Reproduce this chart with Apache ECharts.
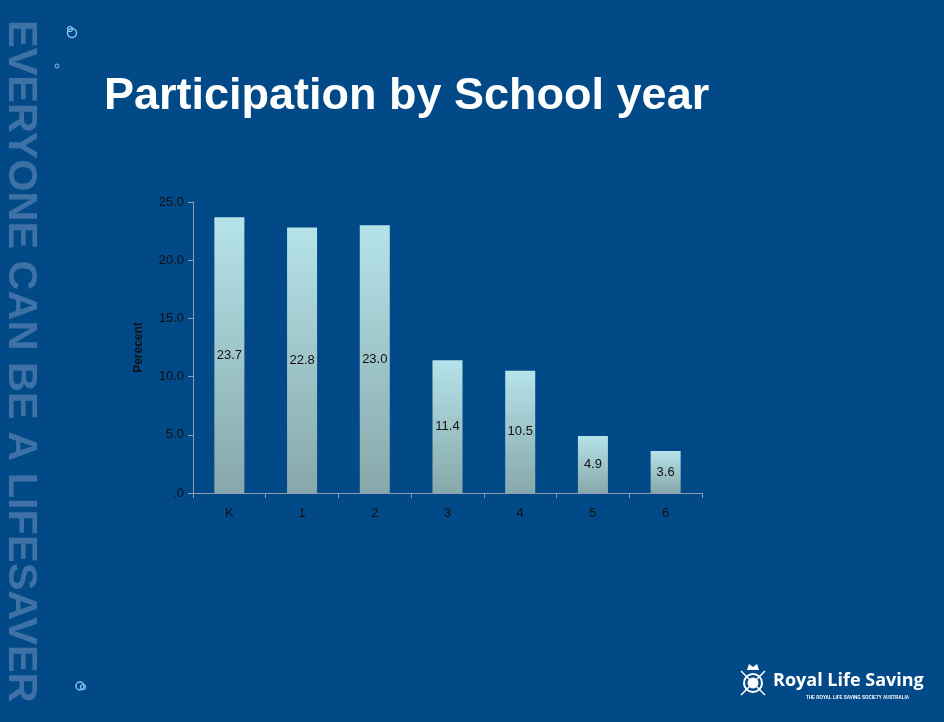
<!DOCTYPE html>
<html>
<head>
<meta charset="utf-8">
<script src="https://cdn.jsdelivr.net/npm/echarts@6/dist/echarts.min.js"></script>
<style>
  html, body { margin: 0; padding: 0; background: #024a87; }
  #chart { width: 944px; height: 722px; }
</style>
</head>
<body>
<div id="chart"></div>
<script>
// School years and share of participants (%)
const schoolYears = ['K', '1', '2', '3', '4', '5', '6'];
const participation = [23.7, 22.8, 23.0, 11.4, 10.5, 4.9, 3.6];
const yTicks = { min: 0, max: 25, interval: 5 };

const chart = echarts.init(document.getElementById('chart'));

const barGradient = new echarts.graphic.LinearGradient(0, 0, 0, 1, [
  { offset: 0, color: '#b5e3e9' },
  { offset: 1, color: '#87a8aa' }
]);

chart.setOption({
  backgroundColor: '#024a87',
  animation: false,
  grid: { left: 193, right: 242, top: 202, bottom: 229 },
  xAxis: {
    type: 'category',
    data: schoolYears,
    axisLine: { lineStyle: { color: '#8d9db3', width: 1 } },
    axisTick: { show: true, length: 5, lineStyle: { color: '#8d9db3' } },
    axisLabel: { color: '#111', fontFamily: 'Liberation Sans, Arial', fontSize: 13, margin: 14 }
  },
  yAxis: {
    type: 'value',
    min: yTicks.min,
    max: yTicks.max,
    interval: yTicks.interval,
    name: 'Perecent',
    nameLocation: 'middle',
    nameGap: 48,
    nameTextStyle: { color: '#111', fontFamily: 'Liberation Sans, Arial', fontSize: 12, fontWeight: 'bold' },
    axisLine: { show: true, lineStyle: { color: '#8d9db3', width: 1 } },
    axisTick: { show: true, length: 5, lineStyle: { color: '#8d9db3' } },
    splitLine: { show: false },
    axisLabel: {
      color: '#111',
      fontFamily: 'Liberation Sans, Arial',
      fontSize: 13,
      margin: 9,
      formatter: v => (v === 0 ? '.0' : v.toFixed(1))
    }
  },
  series: [{
    type: 'bar',
    data: participation,
    barWidth: 30,
    itemStyle: { color: barGradient },
    label: {
      show: true,
      position: 'inside',
      color: '#111',
      fontFamily: 'Liberation Sans, Arial',
      fontSize: 13,
      formatter: p => p.value.toFixed(1)
    }
  }],
  graphic: [
    // slide title
    {
      type: 'text', left: 104, top: 74,
      style: { text: 'Participation by School year', fill: '#ffffff',
               font: 'bold 45px "Liberation Sans", Arial, sans-serif' }
    },
    // vertical slogan along the left edge
    {
      type: 'text', x: 20, y: 20, rotation: -Math.PI / 2,
      style: { text: 'EVERYONE CAN BE A LIFESAVER', fill: '#3e72a7',
               font: 'bold 41.5px "Liberation Sans", Arial, sans-serif',
               textVerticalAlign: 'middle' }
    },
    // small bubbles
    { type: 'circle', shape: { cx: 72, cy: 33, r: 4.5 }, style: { fill: 'none', stroke: '#86c4ef', lineWidth: 1.5 } },
    { type: 'circle', shape: { cx: 70, cy: 29, r: 2.5 }, style: { fill: 'none', stroke: '#86c4ef', lineWidth: 1.2 } },
    { type: 'circle', shape: { cx: 57, cy: 66, r: 2 }, style: { fill: 'none', stroke: '#86c4ef', lineWidth: 1 } },
    { type: 'circle', shape: { cx: 80, cy: 686, r: 4 }, style: { fill: 'none', stroke: '#86c4ef', lineWidth: 1.5 } },
    { type: 'circle', shape: { cx: 83, cy: 687, r: 2.5 }, style: { fill: 'none', stroke: '#86c4ef', lineWidth: 1.2 } },
    // crest emblem
    { type: 'circle', shape: { cx: 753, cy: 683, r: 9 }, style: { fill: 'none', stroke: '#ffffff', lineWidth: 2 } },
    { type: 'circle', shape: { cx: 753, cy: 683, r: 5 }, style: { fill: '#ffffff', stroke: '#ffffff', lineWidth: 1 } },
    { type: 'line', shape: { x1: 741, y1: 671, x2: 765, y2: 695 }, style: { stroke: '#ffffff', lineWidth: 1.5 } },
    { type: 'line', shape: { x1: 765, y1: 671, x2: 741, y2: 695 }, style: { stroke: '#ffffff', lineWidth: 1.5 } },
    { type: 'polygon', shape: { points: [[747, 670], [749, 664], [753, 667], [757, 664], [759, 670]] }, style: { fill: '#ffffff' } },
    // organisation name
    {
      type: 'text', left: 773, top: 672,
      style: { text: 'Royal Life Saving', fill: '#ffffff',
               font: 'bold 18px "Open Sans", "Liberation Sans", sans-serif' }
    },
    {
      type: 'text', left: 806, top: 695,
      style: { text: 'THE ROYAL LIFE SAVING SOCIETY AUSTRALIA', fill: '#ffffff',
               font: 'bold 4.5px "Liberation Sans", sans-serif' }
    }
  ]
});
</script>
</body>
</html>
